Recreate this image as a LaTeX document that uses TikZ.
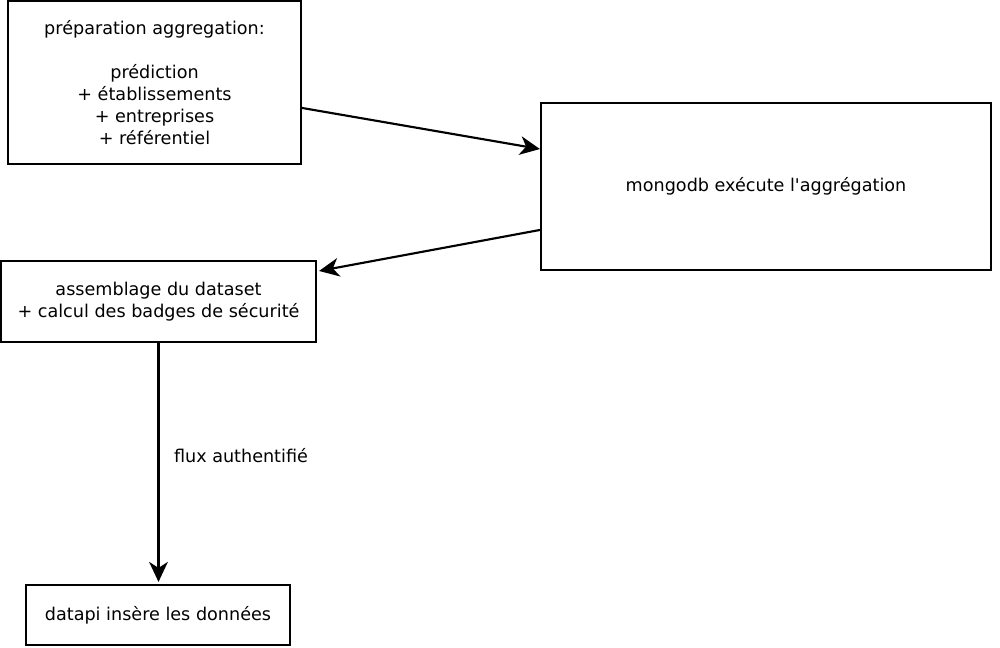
\documentclass[tikz,border=0pt]{standalone}
\usepackage{fontspec}
\setmainfont{DejaVu Sans}
\usetikzlibrary{arrows.meta}
\begin{document}
\begin{tikzpicture}[x=0.75pt,y=-0.75pt,
  txt/.style={font=\fontsize{13.2}{16.5}\selectfont},
  box/.style={txt, draw, line width=1.6pt, inner sep=0pt, align=center},
  conn/.style={line width=1.6pt, -{Stealth[length=15pt,width=14pt,inset=4.5pt]}}]
\useasboundingbox (0,0) rectangle (1000,648);
\node[box, minimum width=219.75pt, minimum height=122.25pt] (A) at (154.5,82.5)
  {préparation aggregation:\\[16.5pt]prédiction\\+ établissements\\+ entreprises\\+ référentiel};
\node[box, minimum width=337.5pt, minimum height=125.25pt] (B) at (766,186.5)
  {\raisebox{-1.2pt}{mongodb exécute l\textquotesingle aggrégation}};
\node[box, minimum width=236.25pt, minimum height=60.75pt] (C) at (158.5,301.5)
  {assemblage du dataset\\+ calcul des badges de sécurité};
\node[box, minimum width=198pt, minimum height=45pt] (D) at (158,615)
  {datapi insère les données};
\draw[conn] ([yshift=-19.1pt]A.east) -- ([yshift=28.1pt]B.west);
\draw[conn] ([yshift=-32.6pt]B.west) -- ([xshift=1.5pt,yshift=22.9pt]C.east);
\draw[conn] (C.south) -- ([yshift=1.5pt]C.south |- D.north)
  node[pos=0.47, right=7.5pt, txt] (L) {flux authentifié};
\end{tikzpicture}
\end{document}
